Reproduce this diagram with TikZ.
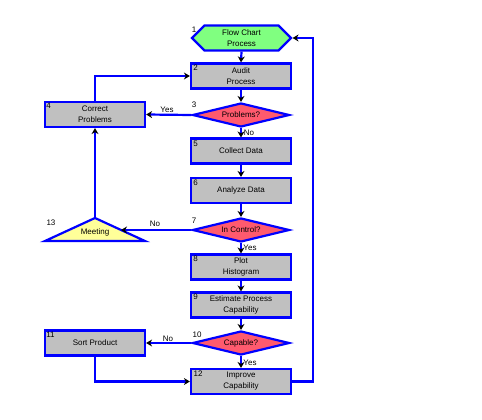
\documentclass[tikz,border=0pt]{standalone}
\usepackage{fontspec}
\setmainfont{Liberation Sans}
\usetikzlibrary{shapes.geometric,shapes.symbols,arrows.meta}
\definecolor{fcblue}{RGB}{0,0,255}
\definecolor{fcgray}{RGB}{192,192,192}
\definecolor{fcred}{RGB}{255,90,110}
\definecolor{fcgreen}{RGB}{128,255,128}
\definecolor{fcyellow}{RGB}{255,255,153}
\begin{document}
\begin{tikzpicture}[x=1pt,y=-1pt,
  font=\fontsize{8}{11}\selectfont,
  box/.style={draw=fcblue,line width=2.2pt,fill=fcgray,minimum width=100pt,minimum height=25pt,inner sep=0pt,align=center},
  dec/.style={diamond,aspect=4,draw=fcblue,line width=2.2pt,fill=fcred,minimum width=97pt,minimum height=24pt,inner sep=0pt},
  num/.style={inner sep=0pt},
  lbl/.style={inner sep=0pt},
  conn/.style={draw=fcblue,line width=2.2pt,-{Stealth[black,length=6pt,width=7pt]}}]
\useasboundingbox (0,0) rectangle (482,420);
% nodes
\node[signal,signal to=west and east,signal pointer angle=90,draw=fcblue,line width=2.2pt,fill=fcgreen,minimum width=99pt,minimum height=25pt,inner sep=0pt,align=center] (hex) at (241.5,38) {Flow Chart\\Process};
\node[box] (b2) at (241,76) {Audit\\Process};
\node[dec] (d3) at (241,115) {Problems?};
\node[box] (b4) at (95,114.5) {Correct\\Problems};
\node[box] (b5) at (241,151) {Collect Data};
\node[box] (b6) at (241,190.5) {Analyze Data};
\node[dec] (d7) at (241,230) {In Control?};
\node[box] (b8) at (241,267) {Plot\\Histogram};
\node[box] (b9) at (241,305) {Estimate Process\\Capability};
\node[dec] (d10) at (241,343) {Capable?};
\node[box] (b11) at (95,343) {Sort Product};
\node[box] (b12) at (241,381.5) {Improve\\Capability};
% triangle 13
\draw[draw=fcblue,line width=2.2pt,fill=fcyellow] (95,218) -- (145,241) -- (45,241) -- cycle;
\node[lbl] (meet) at (95,232) {Meeting};
\coordinate (triTop) at (95,217);
\coordinate (triR) at (121,230);
\coordinate (ret) at (313,381.5);
% numbers
\node[num] (n1) at (194,30) {1};
\node[num] (n2) at (195.5,67.5) {2};
\node[num] (n3) at (194,105) {3};
\node[num] (n4) at (48.5,105.5) {4};
\node[num] (n5) at (195.5,143.5) {5};
\node[num] (n6) at (195.5,182.5) {6};
\node[num] (n7) at (194,221) {7};
\node[num] (n8) at (195.5,259) {8};
\node[num] (n9) at (195.5,297) {9};
\node[num] (n10) at (197,335) {10};
\node[num] (n11) at (50.5,334.5) {11};
\node[num] (n12) at (198,373.5) {12};
\node[num] (n13) at (51,223) {13};
% connectors
\draw[conn] (hex.south) -- (b2.north);
\draw[conn] (b2.south) -- (d3.north);
\draw[conn] (d3.south) -- (b5.north);
\draw[conn] (b5.south) -- (b6.north);
\draw[conn] (b6.south) -- (d7.north);
\draw[conn] (d7.south) -- (b8.north);
\draw[conn] (b8.south) -- (b9.north);
\draw[conn] (b9.south) -- (d10.north);
\draw[conn] (d10.south) -- (b12.north);
\draw[conn] (d3.west) -- (b4.east);
\draw[conn] (b4.north) |- (b2.west);
\draw[conn] (triTop) -- (b4.south);
\draw[conn] (d7.west) -- (triR);
\draw[conn] (d10.west) -- (b11.east);
\draw[conn] (b11.south) |- (b12.west);
\draw[conn] (b12.east) -- (ret) |- (hex.east);
% labels
\node[lbl] (l1) at (249,133) {No};
\node[lbl] (l2) at (167,110) {Yes};
\node[lbl] (l3) at (155,224) {No};
\node[lbl] (l4) at (250,248) {Yes};
\node[lbl] (l5) at (168,339) {No};
\node[lbl] (l6) at (250,363) {Yes};
\end{tikzpicture}
\end{document}
